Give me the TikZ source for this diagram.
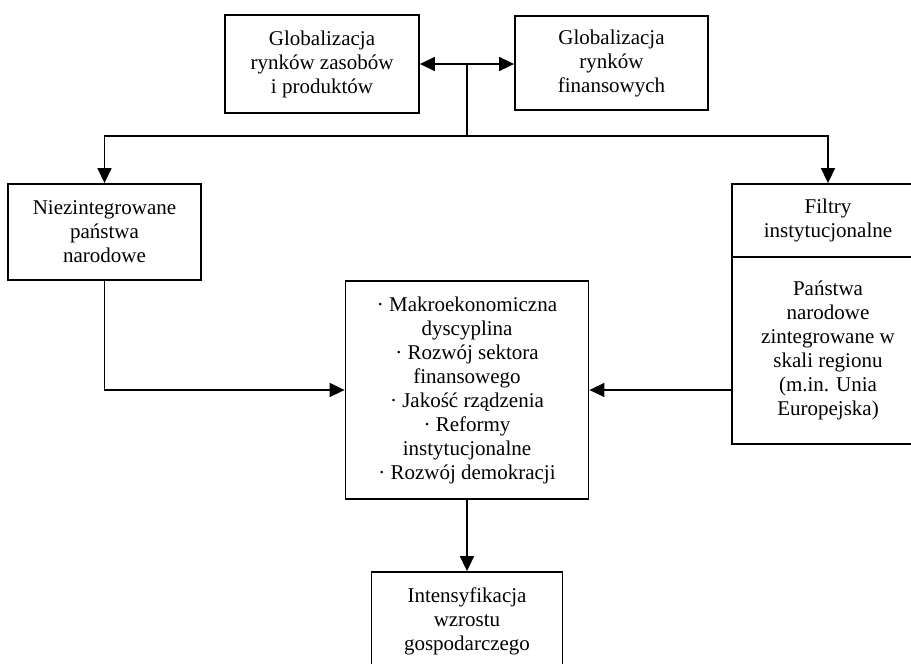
\documentclass[tikz,border=0pt]{standalone}
\usepackage{fontspec}
\setmainfont{Liberation Serif}
\usetikzlibrary{arrows.meta}
\begin{document}
\begin{tikzpicture}[x=1pt,y=-1pt,
  box/.style={draw, line width=1.8pt, align=center, inner sep=0pt,
    font=\fontsize{21}{24}\selectfont},
  conn/.style={line width=1.6pt},
  arr/.style={conn, -{Triangle[length=15pt,width=14pt]}},
  darr/.style={conn, {Triangle[length=15pt,width=14pt]}-{Triangle[length=15pt,width=14pt]}}]
\useasboundingbox (0,0) rectangle (911,664);
\clip (0,0) rectangle (911,664);
\node[box, minimum width=194pt, minimum height=98pt] (b1) at (322,64)
  {Globalizacja\\rynków zasobów\\i produktów};
\node[box, minimum width=193pt, minimum height=94pt] (b2) at (611.5,63)
  {Globalizacja\\rynków\\finansowych};
\node[box, minimum width=193pt, minimum height=96pt] (lft) at (104.5,232)
  {Niezintegrowane\\państwa\\narodowe};
\node[box, minimum width=192pt, minimum height=73pt] (fil) at (828,220.5)
  {Filtry\\instytucjonalne};
\node[box, minimum width=192pt, minimum height=187pt] (pan) at (828,350.5)
  {Państwa\\narodowe\\zintegrowane w\\skali regionu\\(m.in. Unia\\Europejska)};
\node[box, minimum width=243pt, minimum height=218pt] (ctr) at (467,390)
  {· Makroekonomiczna\\dyscyplina\\· Rozwój sektora\\finansowego\\· Jakość rządzenia\\· Reformy\\instytucjonalne\\· Rozwój demokracji};
\node[box, minimum width=191pt, minimum height=99pt] (bot) at (467,621.5)
  {Intensyfikacja\\wzrostu\\gospodarczego};
\coordinate (jt) at (467,64);
\coordinate (jb) at (467,136);
\draw[darr] (b1.east) -- (b1.east -| b2.west);
\draw[conn] (jt) -- (jb);
\draw[arr] (jb) -| (lft.north);
\draw[arr] (jb) -| (fil.north);
\draw[arr] (lft.south) |- (ctr.west);
\draw[arr] (pan.west |- ctr.east) -- (ctr.east);
\draw[arr] (ctr.south) -- (bot.north);
\end{tikzpicture}
\end{document}
